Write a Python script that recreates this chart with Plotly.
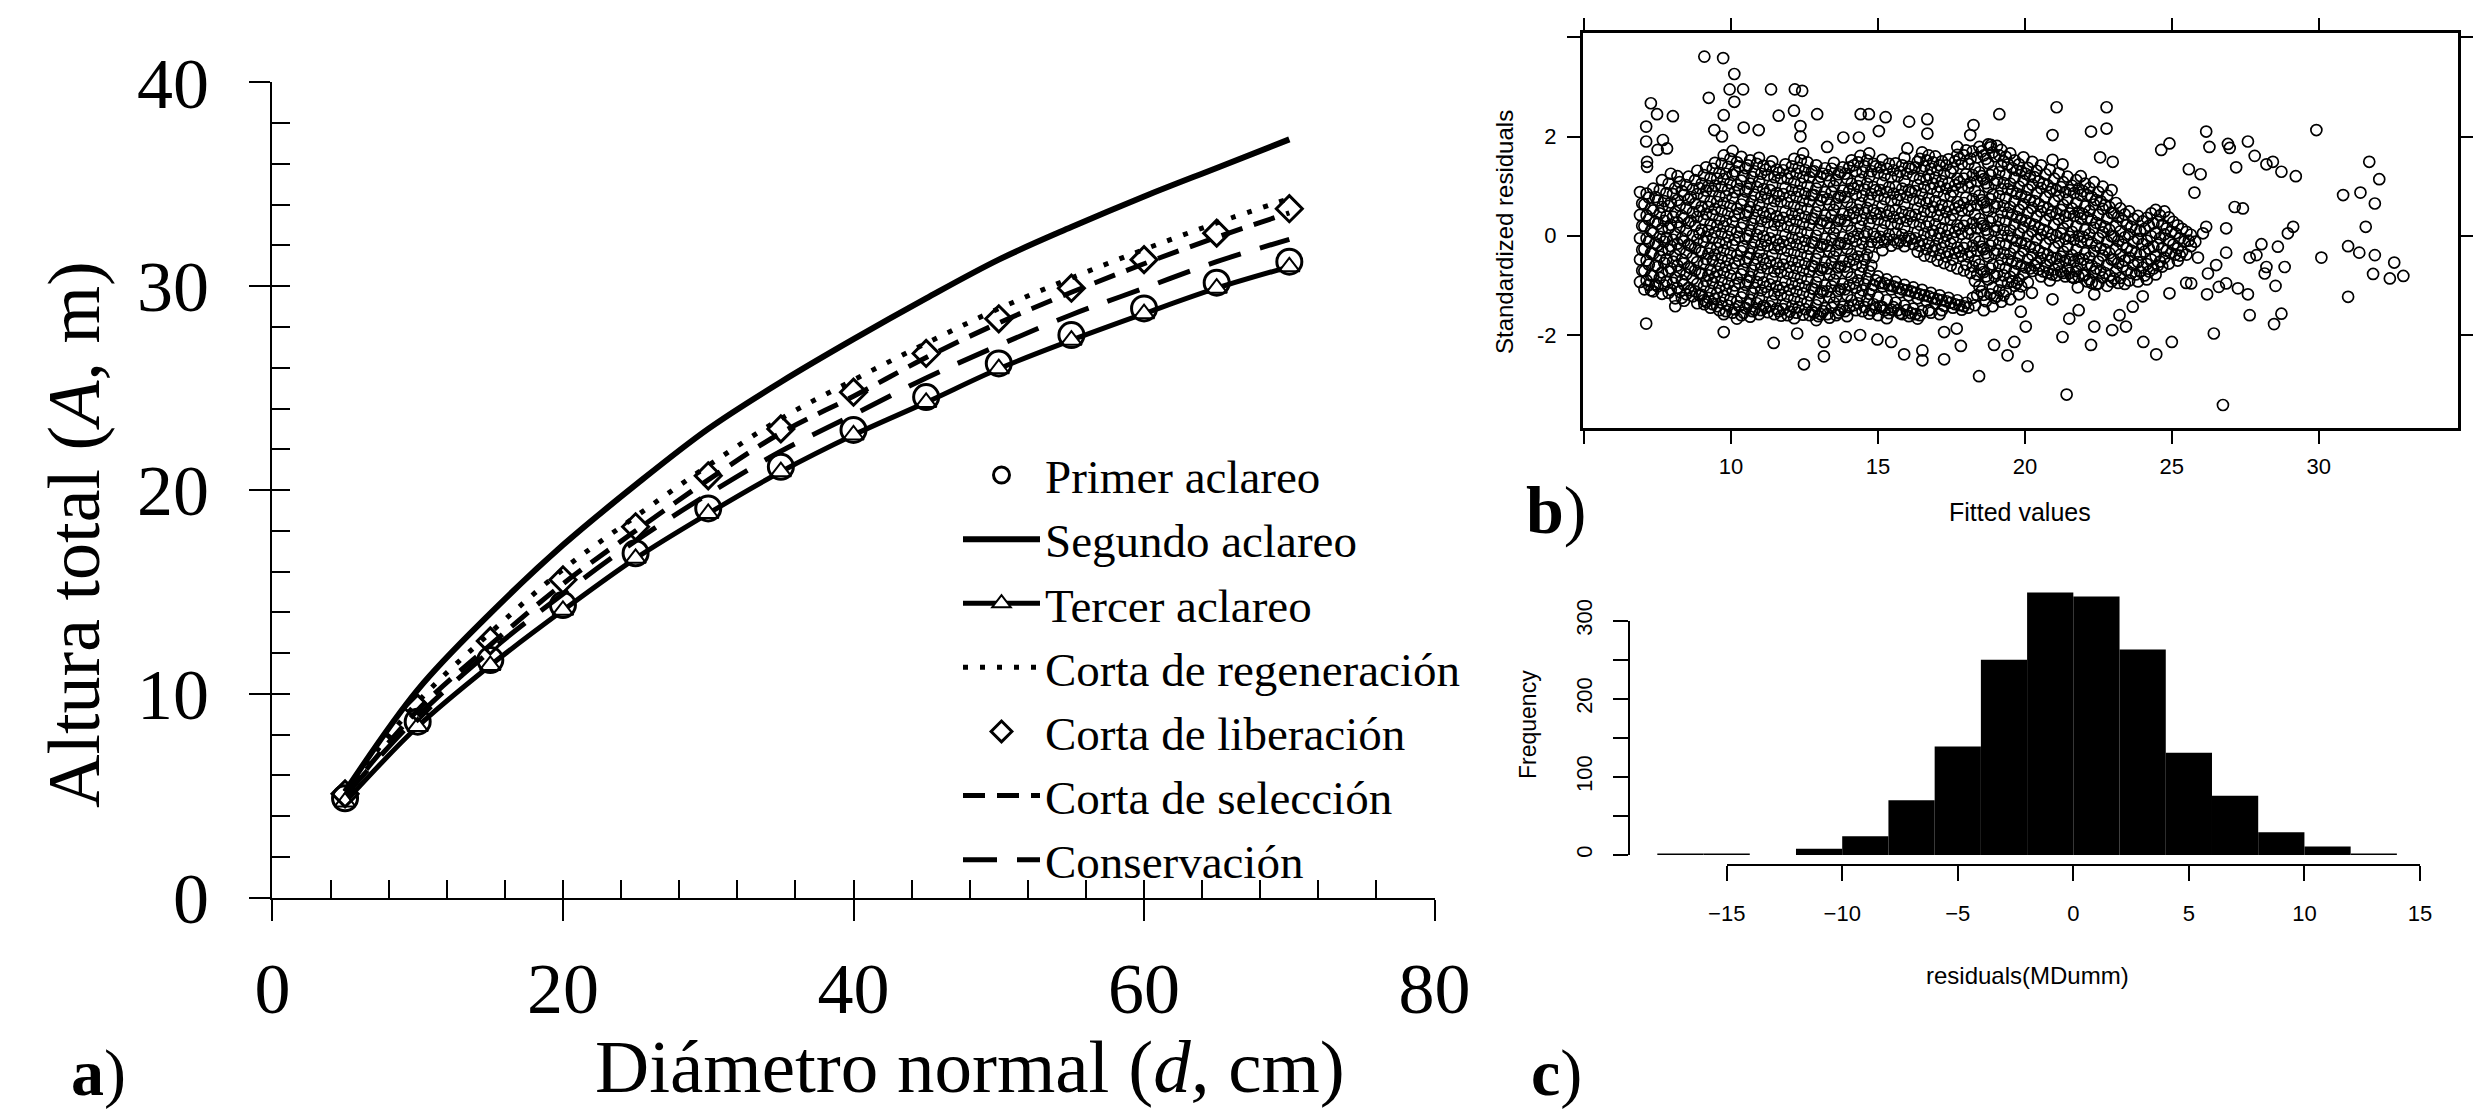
import plotly.graph_objects as go

# ---------------- Panel a: height-diameter curves ----------------
diametro = [5, 10, 15, 20, 25, 30, 35, 40, 45, 50, 55, 60, 65, 70]
primer_aclareo = [4.88, 8.64, 11.66, 14.36, 16.9, 19.1, 21.14, 22.95, 24.56, 26.21, 27.6, 28.91, 30.17, 31.2]
segundo_aclareo = [5.2, 10.2, 13.95, 17.3, 20.25, 23.0, 25.3, 27.4, 29.4, 31.3, 32.9, 34.4, 35.8, 37.2]
tercer_aclareo = [4.7, 8.4, 11.4, 14.1, 16.65, 18.85, 20.9, 22.7, 24.3, 25.95, 27.35, 28.65, 29.9, 30.95]
corta_regeneracion = [5.2, 9.6, 13.0, 16.1, 18.7, 21.2, 23.5, 25.4, 27.2, 28.9, 30.4, 31.8, 33.1, 34.3]
corta_liberacion = [5.1, 9.3, 12.6, 15.6, 18.2, 20.7, 23.0, 24.8, 26.7, 28.4, 29.9, 31.3, 32.6, 33.8]
corta_seleccion = [5.0, 9.2, 12.4, 15.4, 18.0, 20.5, 22.8, 24.6, 26.5, 28.2, 29.7, 31.1, 32.4, 33.6]
conservacion = [5.0, 8.9, 12.1, 14.9, 17.5, 19.8, 21.9, 23.7, 25.5, 27.1, 28.6, 29.9, 31.2, 32.3]

# ---------------- Panel b: standardized residuals vs fitted ----------------
outlier_fitted = [9.09, 9.73, 10.11, 9.95, 10.41, 9.24, 10.11, 9.75, 11.36, 12.17, 12.42, 7.27, 7.48, 8.02,
                  7.11, 7.11, 7.14, 7.14, 7.5, 7.82, 7.68, 11.62, 12.14, 12.93, 14.41, 14.69, 15.26, 16.06,
                  16.68, 16.68, 18.25, 18.14, 19.13, 15.03, 13.82, 14.35, 12.36, 12.36, 10.43, 10.94, 9.43,
                  9.69, 13.27, 16.0, 17.7, 18.84,
                  7.11, 11.45, 12.48, 13.16, 13.16, 13.9, 14.39, 14.98, 15.45, 15.89, 16.51, 16.51, 17.25,
                  17.82, 18.44, 18.95, 19.41, 9.75, 12.25, 8.1, 9.09, 17.25, 17.68,
                  21.08, 22.78, 20.94, 22.25, 22.78, 22.56, 22.99, 20.94, 21.28, 24.64, 24.92, 26.17, 26.28,
                  26.91, 26.97, 27.59, 27.82, 27.19, 25.58, 25.98, 25.77, 28.22, 28.44, 28.73, 29.22, 29.92,
                  31.72, 32.06, 30.83, 31.42, 31.91, 31.6, 31.0, 31.38, 31.91, 31.85, 32.57, 32.42, 32.88,
                  30.09, 31.0, 27.14, 27.42, 29.13, 28.95, 28.61, 28.05, 27.65, 27.88, 28.22, 28.16, 28.84,
                  28.53, 28.73, 28.48, 27.65, 27.59, 27.25, 26.85, 26.6, 26.85, 26.51, 26.23, 26.2, 26.43,
                  25.66, 25.49, 24.92, 24.47, 24.03, 25.0, 22.25, 22.36, 22.97, 21.28, 21.51, 21.83, 21.42,
                  20.09, 26.74, 23.44, 23.22, 23.67, 24.01, 22.36, 21.8, 20.94, 20.24, 20.03, 19.64, 19.86,
                  25.89, 26.17, 26.85, 26.06]
outlier_resid = [3.61, 3.58, 3.26, 2.95, 2.95, 2.78, 2.70, 2.43, 2.95, 2.95, 2.92, 2.67, 2.45, 2.41,
                 2.2, 1.9, 1.49, 1.39, 1.73, 1.76, 1.93, 2.42, 2.52, 2.45, 2.45, 2.45, 2.39, 2.30,
                 2.35, 2.06, 2.23, 2.03, 2.45, 2.11, 1.98, 1.98, 2.21, 2.0, 2.18, 2.13, 2.13,
                 2.0, 1.79, 1.76, 1.79, 1.83,
                 -1.77, -2.16, -2.59, -2.43, -2.14, -2.04, -2.0, -2.09, -2.14, -2.39, -2.31, -2.51, -2.49,
                 -2.22, -2.83, -2.20, -2.41, -1.94, -1.97, -1.42, -1.38, -1.94, -1.87,
                 2.59, 2.59, 2.03, 2.10, 2.16, 1.58, 1.49, 1.53, 1.44, 1.73, 1.86, 2.10, 1.79,
                 1.85, 1.77, 1.90, 1.61, 1.38, 1.34, 1.24, 0.87, 1.44, 1.49, 1.29, 1.20, 2.13,
                 1.49, 1.14, 0.82, 0.87, 0.65, 0.18, -0.21, -0.34, -0.39, -0.77, -0.54, -0.86, -0.81,
                 -0.44, -1.23, 0.58, 0.55, 0.18, 0.05, -0.22, -0.17, -0.44, -0.39, -0.63, -0.76, -0.63,
                 -1.01, -1.57, -1.78, -1.60, -1.18, -1.06, -0.96, -1.03, -0.34, -0.59, -0.76, -1.18, -1.97,
                 -0.96, -0.95, -1.16, -2.39, -2.14, -2.14, -2.2, -1.83, -1.90, -2.04, -1.67, -1.50, -3.20,
                 -2.63, -3.41, -1.83, -1.60, -1.43, -1.22, -1.18, -1.04, -1.28, -1.15, -1.83, -2.14, -1.53,
                 -0.44, 0.18, 0.15, 0.05]

# dense part of the cloud, read column by column: "fitted: residuals..."
resid_cloud_rows = """
6.90: 0.88 0.42 -0.05 -0.48 -0.93
7.05: 0.63 0.19 -0.27 -0.71 -1.08
7.20: 0.77 0.33 -0.12 -0.58 -0.99
7.35: 0.95 0.51 0.06 -0.36 -0.81 -1.12
7.50: 0.71 0.24 -0.19 -0.63 -1.02
7.65: 1.12 0.58 0.14 -0.29 -0.74 -1.17
7.80: 0.86 0.39 -0.04 -0.47 -0.92
7.95: 1.25 0.67 0.22 -0.21 -0.66 -1.09
8.10: 0.96 0.48 0.03 -0.39 -0.84 -1.26
8.25: 1.08 0.61 0.17 -0.27 -0.72 -1.13
8.40: 0.82 0.35 -0.11 -0.55 -0.98 -1.31
8.55: 1.19 0.73 0.26 -0.18 -0.63 -1.05
8.70: 0.94 0.47 0.01 -0.44 -0.87 -1.22
8.85: 1.31 0.84 0.38 -0.08 -0.53 -0.97 -1.36
9.00: 1.05 0.59 0.12 -0.33 -0.76 -1.19
9.15: 1.38 0.91 0.44 -0.02 -0.47 -0.91 -1.33
9.30: 1.16 0.69 0.23 -0.24 -0.68 -1.11 -1.45
9.45: 1.47 1.01 0.54 0.07 -0.38 -0.83 -1.27
9.60: 1.27 0.80 0.33 -0.13 -0.59 -1.04 -1.50
9.75: 1.62 1.14 0.66 0.19 -0.29 -0.74 -1.21 -1.58
9.90: 1.39 0.92 0.45 -0.02 -0.49 -0.96 -1.41
10.05: 1.71 1.23 0.76 0.28 -0.19 -0.66 -1.12 -1.55
10.20: 1.48 1.02 0.54 0.07 -0.40 -0.86 -1.33 -1.67
10.35: 1.59 1.11 0.63 0.16 -0.31 -0.78 -1.24 -1.60
10.50: 1.36 0.89 0.41 -0.06 -0.53 -0.99 -1.46
10.65: 1.52 1.05 0.58 0.11 -0.36 -0.83 -1.29 -1.63
10.80: 1.30 0.83 0.36 -0.12 -0.58 -1.05 -1.49
10.95: 1.57 1.09 0.62 0.14 -0.33 -0.79 -1.26 -1.58
11.10: 1.41 0.94 0.47 -0.01 -0.47 -0.94 -1.41
11.25: 1.22 0.75 0.27 -0.20 -0.66 -1.13 -1.54
11.40: 1.50 1.02 0.55 0.08 -0.39 -0.86 -1.32
11.55: 1.33 0.86 0.39 -0.09 -0.56 -1.02 -1.47
11.70: 1.16 0.69 0.21 -0.26 -0.73 -1.19 -1.61
11.85: 1.44 0.97 0.49 0.02 -0.45 -0.92 -1.38
12.00: 1.26 0.79 0.31 -0.16 -0.63 -1.09 -1.53
12.15: 1.55 1.08 0.60 0.13 -0.34 -0.81 -1.27 -1.66
12.30: 1.37 0.90 0.43 -0.05 -0.52 -0.98 -1.44
12.45: 1.66 1.18 0.71 0.24 -0.23 -0.70 -1.16 -1.59
12.60: 1.48 1.00 0.53 0.06 -0.41 -0.88 -1.34
12.75: 1.29 0.82 0.35 -0.13 -0.60 -1.06 -1.52
12.90: 1.42 0.95 0.47 0.00 -0.47 -0.94 -1.40 -1.70
13.05: 1.19 0.72 0.25 -0.22 -0.69 -1.15 -1.58
13.20: 1.36 0.88 0.41 -0.06 -0.53 -1.00 -1.46
13.35: 1.10 0.63 0.16 -0.31 -0.78 -1.24 -1.65
13.50: 1.47 1.00 0.52 0.05 -0.42 -0.89 -1.35
13.65: 1.24 0.77 0.30 -0.17 -0.64 -1.11 -1.55
13.80: 1.38 0.91 0.44 -0.03 -0.50 -0.97 -1.43
13.95: 1.15 0.68 0.21 -0.26 -0.73 -1.20 -1.62
14.10: 1.52 1.05 0.57 0.10 -0.37 -0.84 -1.30
14.25: 1.30 0.83 0.36 -0.11 -0.58 -1.05 -1.50
14.40: 1.61 1.13 0.66 0.19 -0.28 -0.75 -1.21
14.55: 1.40 0.93 0.46 -0.01 -0.48 -0.98 -1.44
14.70: 1.66 1.19 0.71 0.24 -0.23 -0.72 -1.17 -1.57
14.85: 1.45 0.98 0.51 0.04 -0.43 -0.99 -1.38
15.00: 1.27 0.80 0.33 -0.14 -0.82 -1.24 -1.60
15.15: 1.53 1.06 0.59 0.11 -0.29 -1.02 -1.44
15.30: 1.35 0.88 0.41 -0.06 -0.88 -1.30 -1.66
15.45: 1.18 0.71 0.24 -0.20 -1.08 -1.49
15.60: 1.46 0.99 0.52 0.05 -0.93 -1.35
15.75: 1.29 0.82 0.35 -0.10 -1.14 -1.56
15.90: 1.57 1.10 0.63 0.16 -0.21 -0.99 -1.41
16.05: 1.39 0.92 0.45 -0.02 -1.20 -1.62
16.20: 1.21 0.74 0.27 -0.17 -1.04 -1.47
16.35: 1.49 1.02 0.55 0.08 -0.32 -1.26 -1.67
16.50: 1.68 1.31 0.84 0.37 -0.10 -1.09 -1.52
16.65: 1.52 1.13 0.66 0.19 -0.27 -1.31
16.80: 1.35 0.95 0.48 0.01 -0.42 -1.15 -1.55
16.95: 1.60 1.17 0.70 0.23 -0.21 -1.36
17.10: 1.42 0.99 0.52 0.05 -0.38 -1.20 -1.58
17.25: 1.25 0.81 0.34 -0.13 -0.55 -1.41
17.40: 1.54 1.06 0.59 0.12 -0.32 -1.25
17.55: 1.36 0.89 0.42 -0.05 -0.48 -1.45
17.70: 1.63 1.15 0.68 0.21 -0.24 -0.66 -1.30
17.85: 1.45 0.98 0.51 0.04 -0.41 -1.49
18.00: 1.72 1.24 0.77 0.30 -0.16 -0.58 -1.35
18.15: 1.55 1.07 0.60 0.13 -0.33 -0.75
18.30: 1.37 0.90 0.43 -0.04 -0.50 -0.91 -1.40
18.45: 1.79 1.28 0.81 0.34 -0.12 -0.58 -1.02
18.60: 1.62 1.14 0.67 0.20 -0.27 -0.73 -1.19 -1.50
18.75: 1.84 1.46 0.98 0.51 0.04 -0.42 -0.88
18.90: 1.68 1.30 0.83 0.36 -0.11 -0.58 -1.05 -1.42
19.05: 1.81 1.12 0.65 0.18 -0.29 -0.76 -1.22
19.20: 1.73 1.41 0.94 0.47 0.00 -0.47 -0.93 -1.33
19.35: 1.59 1.23 0.76 0.29 -0.18 -0.65 -1.12
19.50: 1.66 1.05 0.58 0.11 -0.36 -0.83 -1.28
19.65: 1.52 1.17 0.70 0.23 -0.24 -0.71 -1.01
19.80: 1.44 0.99 0.52 0.05 -0.42 -0.88 -1.18
19.95: 1.58 1.11 0.64 0.17 -0.30 -0.77
20.10: 1.37 0.93 0.46 -0.01 -0.48 -0.94
20.25: 1.49 1.03 0.56 0.09 -0.38 -0.71
20.40: 1.31 0.86 0.39 -0.08 -0.55
20.55: 1.42 0.96 0.49 0.02 -0.45 -0.82
20.70: 1.24 0.78 0.31 -0.16 -0.60
20.85: 1.33 0.88 0.41 -0.06 -0.50 -0.90
21.00: 1.15 0.70 0.23 -0.24 -0.68
21.15: 1.26 0.80 0.33 -0.14 -0.58
21.30: 1.08 0.62 0.15 -0.32 -0.75
21.45: 1.19 0.73 0.26 -0.21 -0.66
21.60: 1.01 0.55 0.08 -0.39 -0.83
21.75: 1.12 0.66 0.19 -0.28 -0.71
21.90: 1.20 0.82 0.35 -0.12 -0.57
22.05: 1.05 0.59 0.12 -0.35 -0.79
22.20: 0.96 0.50 0.03 -0.44 -0.88
22.35: 1.08 0.63 0.16 -0.31 -0.73
22.50: 0.88 0.42 -0.05 -0.52 -0.96
22.65: 0.99 0.54 0.07 -0.40 -0.84
22.80: 0.81 0.35 -0.12 -0.59 -1.01
22.95: 0.92 0.46 -0.01 -0.48 -0.92
23.10: 0.66 0.20 -0.27 -0.72
23.25: 0.55 0.09 -0.38 -0.85
23.40: 0.43 -0.03 -0.50 -0.97
23.55: 0.49 0.03 -0.44 -0.90
23.70: 0.34 -0.12 -0.59
23.85: 0.40 -0.06 -0.53 -0.92
24.00: 0.29 -0.17 -0.64
24.15: 0.36 -0.10 -0.57 -0.88
24.30: 0.45 -0.01 -0.48
24.45: 0.52 0.06 -0.41 -0.78
24.60: 0.41 -0.05 -0.52
24.75: 0.49 0.03 -0.44
24.90: 0.37 -0.09 -0.56
25.05: 0.28 -0.18
25.20: 0.21 -0.25 -0.50
25.35: 0.14 -0.32
25.50: 0.08 -0.38
25.65: 0.02 -0.21
25.80: -0.12
6.975: 0.65 0.20 -0.28 -0.70
7.125: 0.85 0.41 -0.05 -0.50 -0.90
7.275: 0.55 0.10 -0.35 -0.80 -1.10
7.425: 0.78 0.28 -0.15 -0.60 -0.98
7.575: 0.92 0.45 -0.02 -0.42 -0.85
7.725: 0.70 0.30 -0.12 -0.55 -1.00
7.875: 1.05 0.60 0.15 -0.28 -0.72 -1.15
8.025: 0.84 0.38 -0.08 -0.52 -0.95
8.175: 1.20 0.72 0.27 -0.16 -0.60 -1.05
8.325: 0.90 0.40 -0.05 -0.48 -0.90 -1.25
8.475: 1.02 0.55 0.10 -0.35 -0.78 -1.18
8.625: 0.78 0.30 -0.20 -0.65 -1.10
8.775: 1.12 0.65 0.20 -0.25 -0.70 -1.12
8.925: 0.96 0.50 0.05 -0.30 -0.75 -1.20
9.075: 1.22 0.78 0.32 -0.12 -0.57 -1.02 -1.30
9.225: 1.00 0.58 0.10 -0.36 -0.80 -1.25
9.375: 1.35 0.90 0.42 -0.05 -0.50 -0.95 -1.38
9.525: 1.15 0.68 0.20 -0.25 -0.72 -1.16 -1.42
9.675: 1.45 0.98 0.50 0.04 -0.45 -0.90 -1.35
9.825: 1.25 0.80 0.30 -0.15 -0.62 -1.08 -1.52
9.975: 1.55 1.06 0.60 0.12 -0.35 -0.80 -1.28
10.125: 1.30 0.88 0.40 -0.08 -0.55 -1.00 -1.48
10.275: 1.40 0.94 0.45 -0.02 -0.50 -0.95 -1.42
10.425: 1.20 0.72 0.25 -0.22 -0.68 -1.15 -1.55
10.575: 1.42 0.95 0.48 0.00 -0.45 -0.92 -1.38
10.725: 1.18 0.70 0.24 -0.24 -0.70 -1.16 -1.52
10.875: 1.45 0.98 0.50 0.02 -0.46 -0.93 -1.36
11.025: 1.25 0.78 0.30 -0.18 -0.64 -1.10 -1.50
11.175: 1.33 0.85 0.38 -0.10 -0.56 -1.03 -1.45
11.325: 1.40 0.92 0.44 -0.05 -0.52 -0.98 -1.42
11.475: 1.18 0.70 0.22 -0.25 -0.72 -1.18 -1.58
11.625: 1.27 0.80 0.30 -0.18 -0.65 -1.10 -1.52
11.775: 1.32 0.84 0.36 -0.12 -0.58 -1.05 -1.48
11.925: 1.15 0.66 0.18 -0.30 -0.76 -1.22 -1.60
12.075: 1.40 0.92 0.44 -0.04 -0.50 -0.96 -1.42
12.225: 1.25 0.78 0.30 -0.18 -0.65 -1.12 -1.55
12.375: 1.52 1.05 0.56 0.08 -0.38 -0.85 -1.30
12.525: 1.32 0.85 0.38 -0.10 -0.56 -1.02 -1.48
12.675: 1.18 0.70 0.22 -0.26 -0.72 -1.20 -1.60
12.825: 1.30 0.82 0.34 -0.14 -0.62 -1.08 -1.55
12.975: 1.08 0.60 0.12 -0.35 -0.82 -1.28 -1.62
13.125: 1.25 0.78 0.30 -0.18 -0.65 -1.12 -1.52
13.275: 1.22 0.74 0.26 -0.20 -0.66 -1.12 -1.58
13.425: 1.35 0.88 0.40 -0.08 -0.55 -1.02 -1.45
13.575: 1.12 0.64 0.16 -0.30 -0.76 -1.22 -1.60
13.725: 1.28 0.80 0.32 -0.15 -0.62 -1.08 -1.50
13.875: 1.25 0.78 0.30 -0.16 -0.62 -1.08 -1.52
14.025: 1.38 0.90 0.42 -0.06 -0.52 -1.00 -1.44
14.175: 1.42 0.95 0.46 -0.02 -0.48 -0.96 -1.40
14.325: 1.48 1.00 0.52 0.04 -0.42 -0.90 -1.36
14.475: 1.28 0.80 0.32 -0.15 -0.62 -1.10 -1.52
14.625: 1.52 1.05 0.56 0.08 -0.38 -0.86 -1.30
14.775: 1.30 0.84 0.36 -0.12 -0.60 -1.08 -1.50
14.925: 1.40 0.92 0.45 -0.02 -0.90 -1.46
15.075: 1.38 0.92 0.45 -0.02 -0.95 -1.42
15.225: 1.22 0.74 0.26 -0.12 -0.96 -1.50
15.375: 1.45 0.98 0.50 0.02 -1.00 -1.56
15.525: 1.32 0.85 0.38 -0.08 -1.02 -1.44
15.675: 1.20 0.72 0.24 -0.15 -1.05 -1.50
15.825: 1.42 0.95 0.48 0.02 -1.08 -1.58
15.975: 1.25 0.78 0.30 -0.10 -1.10 -1.50
16.125: 1.35 0.88 0.40 -0.06 -1.12 -1.56
16.275: 1.38 0.90 0.42 -0.05 -1.15 -1.58
16.425: 1.55 1.15 0.70 0.22 -0.20 -1.18 -1.60
16.575: 1.40 0.98 0.50 0.04 -0.40 -1.20
16.725: 1.62 1.22 0.75 0.28 -0.15 -1.22 -1.50
16.875: 1.48 1.05 0.58 0.10 -0.30 -1.26
17.025: 1.32 0.88 0.40 -0.06 -0.50 -1.28
17.175: 1.50 1.10 0.62 0.15 -0.25 -1.30 -1.50
17.325: 1.42 0.95 0.48 0.00 -0.42 -1.32
17.475: 1.28 0.80 0.32 -0.16 -0.60 -1.35
17.625: 1.50 1.02 0.55 0.08 -0.35 -1.38
17.775: 1.55 1.08 0.60 0.14 -0.32 -1.40
17.925: 1.62 1.15 0.66 0.20 -0.25 -0.70 -1.42
18.075: 1.45 0.98 0.52 0.05 -0.42 -1.45
18.225: 1.70 1.22 0.74 0.26 -0.20 -0.62 -1.25
18.375: 1.58 1.10 0.62 0.15 -0.30 -0.78 -1.20
18.525: 1.70 1.20 0.72 0.25 -0.22 -0.68 -1.12
18.675: 1.55 1.06 0.58 0.12 -0.35 -0.82 -1.32
18.825: 1.78 1.22 0.74 0.28 -0.20 -0.66 -1.18
18.975: 1.60 1.05 0.58 0.10 -0.36 -0.82 -1.25
19.125: 1.62 1.28 0.80 0.32 -0.15 -0.60 -1.10
19.275: 1.50 1.06 0.60 0.12 -0.35 -0.80 -1.20
19.425: 1.44 0.94 0.46 0.00 -0.48 -0.95
19.575: 1.36 0.90 0.42 -0.05 -0.52 -0.92
19.725: 1.32 0.85 0.38 -0.10 -0.56 -0.95
19.875: 1.30 0.82 0.34 -0.14 -0.60 -1.02
20.025: 1.25 0.78 0.30 -0.16 -0.64
20.175: 1.20 0.72 0.25 -0.22 -0.66
20.325: 1.18 0.70 0.22 -0.24 -0.60
20.475: 1.10 0.64 0.16 -0.30 -0.68
20.625: 1.05 0.58 0.12 -0.35 -0.72
20.775: 1.02 0.55 0.08 -0.38 -0.75
20.925: 0.95 0.48 0.02 -0.44 -0.78
21.075: 0.92 0.45 0.00 -0.45 -0.80
21.225: 0.98 0.52 0.05 -0.42 -0.72
21.375: 0.88 0.40 -0.06 -0.50 -0.82
21.525: 0.92 0.45 -0.02 -0.48 -0.75
21.675: 0.86 0.40 -0.08 -0.52 -0.85
21.825: 0.95 0.48 0.00 -0.45 -0.82
21.975: 0.90 0.44 -0.02 -0.48 -0.80
22.125: 0.82 0.36 -0.10 -0.58 -0.92
22.275: 0.78 0.32 -0.14 -0.60 -0.95
22.425: 0.72 0.26 -0.20 -0.66 -0.98
22.575: 0.70 0.22 -0.25 -0.70
22.725: 0.62 0.18 -0.28 -0.75
22.875: 0.58 0.12 -0.35 -0.80
23.025: 0.45 -0.02 -0.48 -0.86
23.175: 0.38 -0.10 -0.55 -0.95
23.325: 0.30 -0.18 -0.62
23.475: 0.22 -0.25 -0.70
23.625: 0.18 -0.30 -0.75
23.775: 0.12 -0.35 -0.78
23.925: 0.10 -0.38 -0.72
24.075: 0.14 -0.32 -0.80
24.225: 0.20 -0.26 -0.72
24.375: 0.25 -0.22 -0.66
24.525: 0.28 -0.18 -0.60
24.675: 0.22 -0.25 -0.62
24.825: 0.15 -0.30
24.975: 0.08 -0.35
25.125: 0.05 -0.38
25.275: -0.05 -0.40
25.425: -0.12
25.575: -0.10
"""

# ---------------- Panel c: histogram of residuals ----------------
hist_bin_left = [-18, -16, -14, -12, -10, -8, -6, -4, -2, 0, 2, 4, 6, 8, 10, 12]
hist_counts = [2, 2, 0, 8, 24, 70, 139, 250, 336, 331, 263, 131, 76, 29, 11, 2]
hist_bin_width = 2

# ---------------- layout helpers (pixel -> paper) ----------------
W, H = 2483, 1112


def px(v):
    return v / W


def py(v):
    return 1 - v / H


SERIF = "Liberation Serif, Times New Roman, serif"
SANS = "Liberation Sans, Arial, sans-serif"

fig = go.Figure()

# ---- panel a traces (draw order) ----
fig.add_trace(go.Scatter(x=diametro, y=segundo_aclareo, mode="lines", name="Segundo aclareo",
                         line=dict(color="black", width=6, shape="spline"), legendrank=2))
fig.add_trace(go.Scatter(x=diametro, y=corta_regeneracion, mode="lines", name="Corta de regeneración",
                         line=dict(color="black", width=5, dash="5px,12px", shape="spline"), legendrank=4))
fig.add_trace(go.Scatter(x=diametro, y=corta_seleccion, mode="lines", name="Corta de selección",
                         line=dict(color="black", width=5, dash="22px,12px", shape="spline"), legendrank=6))
fig.add_trace(go.Scatter(x=diametro, y=conservacion, mode="lines", name="Conservación",
                         line=dict(color="black", width=5, dash="34px,20px", shape="spline"), legendrank=7))
fig.add_trace(go.Scatter(x=diametro, y=tercer_aclareo, mode="lines+markers", name="Tercer aclareo",
                         line=dict(color="black", width=5, shape="spline"),
                         marker=dict(symbol="triangle-up", size=18, color="white",
                                     line=dict(color="black", width=2)), legendrank=3))
fig.add_trace(go.Scatter(x=diametro, y=primer_aclareo, mode="markers", name="Primer aclareo",
                         marker=dict(symbol="circle-open", size=25, color="black",
                                     line=dict(color="black", width=3)), legendrank=1))
fig.add_trace(go.Scatter(x=diametro, y=corta_liberacion, mode="markers", name="Corta de liberación",
                         marker=dict(symbol="diamond-open", size=20, color="black",
                                     line=dict(color="black", width=3)), legendrank=5))
# empty trace so the minor-tick overlay axes of panel a are drawn
fig.add_trace(go.Scatter(x=[None], y=[None], xaxis="x2", yaxis="y2", showlegend=False, hoverinfo="skip"))

# ---- panel b ----
cloud_x, cloud_y = [], []
for row in resid_cloud_rows.strip().splitlines():
    fv, rs = row.split(":")
    for r in rs.split():
        cloud_x.append(float(fv))
        cloud_y.append(float(r))
fig.add_trace(go.Scatter(x=cloud_x + outlier_fitted, y=cloud_y + outlier_resid, mode="markers",
                         xaxis="x3", yaxis="y3", showlegend=False,
                         marker=dict(symbol="circle-open", size=11, color="black",
                                     line=dict(color="black", width=1.7))))

# ---- panel c ----
hist_centers = [b + hist_bin_width / 2 for b in hist_bin_left]
fig.add_trace(go.Bar(x=hist_centers, y=hist_counts, width=hist_bin_width, xaxis="x4", yaxis="y4",
                     showlegend=False, marker=dict(color="black", line=dict(width=0))))
# empty trace so the detached R-style axes of panel c are drawn
fig.add_trace(go.Scatter(x=[None], y=[None], xaxis="x5", yaxis="y5", showlegend=False, hoverinfo="skip"))

axis_common = dict(showgrid=False, zeroline=False, color="black", tickcolor="black", linecolor="black",
                   automargin=False)

fig.update_layout(
    width=W, height=H, margin=dict(l=0, r=0, t=0, b=0, pad=0),
    paper_bgcolor="white", plot_bgcolor="rgba(0,0,0,0)",
    font=dict(family=SERIF, color="black"),
    showlegend=True,
    legend=dict(x=px(958), y=py(438), xanchor="left", yanchor="top",
                font=dict(family=SERIF, size=47, color="black"),
                bgcolor="rgba(0,0,0,0)", itemwidth=77, tracegroupgap=0),
    # panel a
    xaxis=dict(domain=[px(272.4), px(1434.6)], range=[0, 80], anchor="y", **axis_common,
               showline=True, linewidth=2, ticks="outside", ticklen=21, tickwidth=2,
               tickvals=[0, 20, 40, 60, 80], tickfont=dict(family=SERIF, size=72),
               ticklabelstandoff=6),
    yaxis=dict(domain=[py(897.8), py(82.3)], range=[0, 40], anchor="x", **axis_common,
               showline=True, linewidth=2, ticks="outside", ticklen=21, tickwidth=2,
               tickvals=[0, 10, 20, 30, 40], tickfont=dict(family=SERIF, size=72),
               ticklabelstandoff=26),
    xaxis2=dict(overlaying="x", anchor="y", range=[0, 80], **axis_common, showline=False,
                ticks="inside", ticklen=18, tickwidth=2, tickvals=list(range(0, 81, 4)),
                showticklabels=False),
    yaxis2=dict(overlaying="y", anchor="x", range=[0, 40], **axis_common, showline=False,
                ticks="inside", ticklen=18, tickwidth=2, tickvals=list(range(0, 41, 2)),
                showticklabels=False),
    # panel b
    xaxis3=dict(domain=[px(1582.7), px(2457.7)], range=[4.95, 34.73], anchor="y3", **axis_common,
                showline=True, mirror="ticks", linewidth=2.5, ticks="outside", ticklen=13, tickwidth=2,
                tickvals=[5, 10, 15, 20, 25, 30], ticktext=["", "10", "15", "20", "25", "30"],
                tickfont=dict(family=SANS, size=22), ticklabelstandoff=4),
    yaxis3=dict(domain=[py(428.3), py(33.3)], range=[-3.88, 4.08], anchor="x3", **axis_common,
                showline=True, mirror="ticks", linewidth=2.5, ticks="outside", ticklen=13, tickwidth=2,
                tickvals=[-2, 0, 2, 4], ticktext=["-2", "0", "2", ""],
                tickfont=dict(family=SANS, size=22), ticklabelstandoff=6),
    # panel c (bars)
    xaxis4=dict(domain=[px(1611.1), px(2443.1)], range=[-20, 16], anchor="y4", visible=False,
                automargin=False),
    yaxis4=dict(domain=[py(855), py(585.5)], range=[0, 345], anchor="x4", visible=False,
                automargin=False),
    # panel c (R-style detached axes)
    xaxis5=dict(domain=[px(1726.7), px(2420)], range=[-15, 15], anchor="free", position=py(865),
                **axis_common, showline=True, linewidth=2, ticks="outside", ticklen=15, tickwidth=2,
                tickvals=[-15, -10, -5, 0, 5, 10, 15], tickfont=dict(family=SANS, size=22),
                ticklabelstandoff=14),
    yaxis5=dict(domain=[py(855), py(620.7)], range=[0, 300], anchor="free", position=px(1629),
                side="left", **axis_common, showline=True, linewidth=2, ticks="outside", ticklen=15,
                tickwidth=2, tickvals=[0, 50, 100, 150, 200, 250, 300],
                ticktext=["0", "", "100", "", "200", "", "300"], tickangle=-90,
                tickfont=dict(family=SANS, size=22), ticklabelstandoff=12),
)

annotations = [
    dict(text="Altura total (<i>A</i>, m)", x=px(74), y=py(535), textangle=-90,
         font=dict(family=SERIF, size=74)),
    dict(text="Diámetro normal (<i>d,</i> cm)", x=px(970), y=py(1066),
         font=dict(family=SERIF, size=75)),
    dict(text="<b>a</b>)", x=px(98), y=py(1073), font=dict(family=SERIF, size=66)),
    dict(text="Standardized residuals", x=px(1504), y=py(232), textangle=-90,
         font=dict(family=SANS, size=24)),
    dict(text="Fitted values", x=px(2020), y=py(512), font=dict(family=SANS, size=25)),
    dict(text="<b>b</b>)", x=px(1556), y=py(510), font=dict(family=SERIF, size=68)),
    dict(text="Frequency", x=px(1528), y=py(725), textangle=-90, font=dict(family=SANS, size=23)),
    dict(text="residuals(MDumm)", x=px(2027), y=py(975), font=dict(family=SANS, size=24)),
    dict(text="<b>c</b>)", x=px(1556), y=py(1073), font=dict(family=SERIF, size=66)),
]
for a in annotations:
    a.update(xref="paper", yref="paper", showarrow=False, xanchor="center", yanchor="middle")
fig.update_layout(annotations=annotations)

# remove the browser's default 8px body margin so the figure fills the window exactly
fig.write_html("out.html", config={"displayModeBar": False},
               post_script="document.body.style.margin='0px';")
